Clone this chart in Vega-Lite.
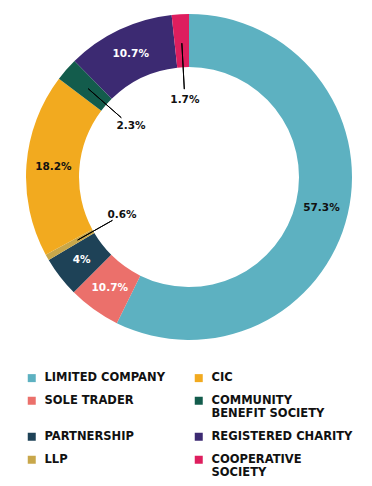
{
  "$schema": "https://vega.github.io/schema/vega-lite/v6.json",
  "width": 378,
  "height": 354,
  "padding": {"left": 0, "top": 0, "right": 0, "bottom": 132},
  "autosize": {"type": "none"},
  "background": "white",
  "data": {
    "values": [
      {"category": "LIMITED COMPANY", "value": 57.3, "label": "57.3%", "rank": 1},
      {"category": "SOLE TRADER", "value": 5.2, "label": "10.7%", "rank": 2},
      {"category": "PARTNERSHIP", "value": 4.0, "label": "4%", "rank": 3},
      {"category": "LLP", "value": 0.6, "label": "0.6%", "rank": 4},
      {"category": "CIC", "value": 18.2, "label": "18.2%", "rank": 5},
      {"category": "COMMUNITY BENEFIT SOCIETY", "value": 2.3, "label": "2.3%", "rank": 6},
      {"category": "REGISTERED CHARITY", "value": 10.7, "label": "10.7%", "rank": 7},
      {"category": "COOPERATIVE SOCIETY", "value": 1.7, "label": "1.7%", "rank": 8}
    ]
  },
  "config": {"view": {"stroke": null}},
  "layer": [
    {
      "mark": {"type": "arc", "innerRadius": 110, "outerRadius": 163},
      "encoding": {
        "theta": {"field": "value", "type": "quantitative", "stack": true, "scale": {"domain": [0, 100]}},
        "order": {"field": "rank", "type": "quantitative"},
        "color": {
          "field": "category",
          "type": "nominal",
          "scale": {
            "domain": ["LIMITED COMPANY", "SOLE TRADER", "PARTNERSHIP", "LLP", "CIC", "COMMUNITY BENEFIT SOCIETY", "REGISTERED CHARITY", "COOPERATIVE SOCIETY"],
            "range": ["#5DB1C1", "#EB706B", "#1E4257", "#C8A74A", "#F2AA1F", "#135C4C", "#3C2A72", "#DE1E5E"]
          },
          "legend": {
            "title": null,
            "orient": "none",
            "legendX": 26,
            "legendY": 372,
            "columns": 2,
            "columnPadding": 28,
            "rowPadding": 10,
            "symbolType": "square",
            "symbolSize": 64,
            "symbolStrokeWidth": 0,
            "labelFont": "DejaVu Sans",
            "labelFontWeight": "bold",
            "labelFontSize": 11.5,
            "labelColor": "#111111",
            "labelOffset": 7,
            "labelLimit": 300,
            "labelExpr": "datum.label == 'COMMUNITY BENEFIT SOCIETY' ? ['COMMUNITY', 'BENEFIT SOCIETY'] : datum.label == 'COOPERATIVE SOCIETY' ? ['COOPERATIVE', 'SOCIETY'] : datum.label"
          }
        }
      }
    },
    {
      "transform": [
        {"stack": "value", "groupby": [], "sort": [{"field": "rank"}], "as": ["v0", "v1"]},
        {"filter": "datum.category == 'COOPERATIVE SOCIETY'"}
      ],
      "mark": {"type": "arc", "innerRadius": 88, "outerRadius": 134, "thetaOffset": 0.0534, "theta2Offset": 0.0534, "fill": "transparent", "stroke": "black", "strokeWidth": 1},
      "encoding": {
        "theta": {"field": "v0", "type": "quantitative"},
        "theta2": {"field": "v0"}
      }
    },
    {
      "transform": [
        {"stack": "value", "groupby": [], "sort": [{"field": "rank"}], "as": ["v0", "v1"]},
        {"filter": "datum.category == 'COMMUNITY BENEFIT SOCIETY'"}
      ],
      "mark": {"type": "arc", "innerRadius": 90, "outerRadius": 134, "thetaOffset": 0.0723, "theta2Offset": 0.0723, "fill": "transparent", "stroke": "black", "strokeWidth": 1},
      "encoding": {
        "theta": {"field": "v0", "type": "quantitative"},
        "theta2": {"field": "v0"}
      }
    },
    {
      "transform": [
        {"stack": "value", "groupby": [], "sort": [{"field": "rank"}], "as": ["v0", "v1"]},
        {"filter": "datum.category == 'LLP'"}
      ],
      "mark": {"type": "arc", "innerRadius": 88, "outerRadius": 128, "thetaOffset": 0.0188, "theta2Offset": 0.0188, "fill": "transparent", "stroke": "black", "strokeWidth": 1},
      "encoding": {
        "theta": {"field": "v0", "type": "quantitative"},
        "theta2": {"field": "v0"}
      }
    },
    {
      "mark": {"type": "text", "radius": 136, "font": "DejaVu Sans", "fontWeight": "bold", "fontSize": 10.5},
      "encoding": {
        "theta": {"field": "value", "type": "quantitative", "stack": true},
        "order": {"field": "rank", "type": "quantitative"},
        "detail": {"field": "category"},
        "text": {"condition": {"test": "datum.value >= 3", "field": "label"}, "value": ""},
        "color": {"condition": {"test": "datum.category == 'SOLE TRADER' || datum.category == 'PARTNERSHIP' || datum.category == 'REGISTERED CHARITY'", "value": "white"}, "value": "#111111"}
      }
    },
    {
      "mark": {"type": "text", "radius": 77, "font": "DejaVu Sans", "fontWeight": "bold", "fontSize": 10.5, "color": "#111111"},
      "encoding": {
        "theta": {"field": "value", "type": "quantitative", "stack": true},
        "order": {"field": "rank", "type": "quantitative"},
        "detail": {"field": "category"},
        "text": {"condition": {"test": "datum.value < 3", "field": "label"}, "value": ""}
      }
    }
  ]
}
